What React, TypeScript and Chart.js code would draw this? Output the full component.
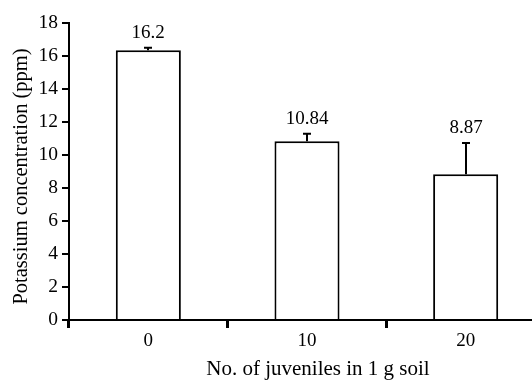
import React, { useEffect, useRef } from "react";
import { Chart, registerables } from "chart.js";

Chart.register(...registerables);

const categories = ["0", "10", "20"];
const means = [16.35, 10.84, 8.83];
const errors = [0.15, 0.45, 1.9];
const valueLabels = ["16.2", "10.84", "8.87"];
const yTicks = [0, 2, 4, 6, 8, 10, 12, 14, 16, 18];
const xTitle = "No. of juveniles in 1 g soil";
const yTitle = "Potassium concentration (ppm)";

const FONT = "'Liberation Serif', 'Times New Roman', serif";

const overlayPlugin = {
  id: "overlay",
  afterDatasetsDraw(chart: any) {
    const ctx = chart.ctx;
    const meta = chart.getDatasetMeta(0);
    const y = chart.scales.y;
    const area = chart.chartArea;
    ctx.save();
    ctx.strokeStyle = "#000";
    ctx.fillStyle = "#000";
    ctx.lineWidth = 2;
    meta.data.forEach((bar: any, i: number) => {
      const x = Math.round(bar.x);
      const yTop = y.getPixelForValue(means[i]);
      const yErr = y.getPixelForValue(means[i] + errors[i]);
      ctx.beginPath();
      ctx.moveTo(x, yTop);
      ctx.lineTo(x, yErr);
      ctx.moveTo(x - 4, yErr);
      ctx.lineTo(x + 4, yErr);
      ctx.stroke();
      ctx.font = `19px ${FONT}`;
      ctx.textAlign = "center";
      ctx.textBaseline = "alphabetic";
      ctx.fillText(valueLabels[i], x, yErr - 10);
    });
    // axis titles
    ctx.font = `21px ${FONT}`;
    ctx.textAlign = "center";
    ctx.textBaseline = "alphabetic";
    ctx.fillText(xTitle, area.left + 249, area.bottom + 55);
    ctx.save();
    ctx.font = `20.5px ${FONT}`;
    ctx.translate(27, (area.top + area.bottom) / 2 + 5);
    ctx.rotate(-Math.PI / 2);
    ctx.fillText(yTitle, 0, 0);
    ctx.restore();
    ctx.restore();
  },
};

export default function App() {
  const ref = useRef<HTMLCanvasElement>(null);
  useEffect(() => {
    if (!ref.current) return;
    const chart = new Chart(ref.current, {
      type: "bar",
      data: {
        labels: categories,
        datasets: [
          {
            data: means,
            backgroundColor: "#fff",
            borderColor: "#000",
            borderWidth: 2,
            borderSkipped: "start",
            categoryPercentage: 1,
            barPercentage: 0.41,
          },
        ],
      },
      options: {
        animation: false,
        responsive: false,
        maintainAspectRatio: false,
        layout: { padding: { left: 0, top: 23, right: 15, bottom: 0 } },
        plugins: { legend: { display: false }, tooltip: { enabled: false } },
        scales: {
          x: {
            offset: true,
            grid: {
              offset: true,
              drawOnChartArea: false,
              drawTicks: true,
              tickLength: 8,
              color: "#000",
              lineWidth: 3,
            },
            border: { display: true, color: "#000", width: 2 },
            ticks: {
              color: "#000",
              font: { family: FONT, size: 19 },
              padding: 2,
              maxRotation: 0,
            },
            afterFit: (s: any) => {
              s.height = 60;
            },
          },
          y: {
            min: 0,
            max: 18,
            afterBuildTicks: (s: any) => {
              s.ticks = yTicks.map((v) => ({ value: v }));
            },
            grid: {
              drawOnChartArea: false,
              drawTicks: true,
              tickLength: 7,
              color: "#000",
              lineWidth: 2,
            },
            border: { display: true, color: "#000", width: 2 },
            ticks: {
              color: "#000",
              font: { family: FONT, size: 19.5 },
              padding: 4,
            },
            afterFit: (s: any) => {
              s.width = 69;
            },
          },
        },
      },
      plugins: [overlayPlugin],
    });
    return () => chart.destroy();
  }, []);
  return (
    <div
      style={{
        position: "fixed",
        left: 0,
        top: 0,
        width: 532,
        height: 380,
        overflow: "hidden",
        background: "#fff",
      }}
    >
      <canvas ref={ref} width={560} height={380} style={{ display: "block" }} />
    </div>
  );
}
